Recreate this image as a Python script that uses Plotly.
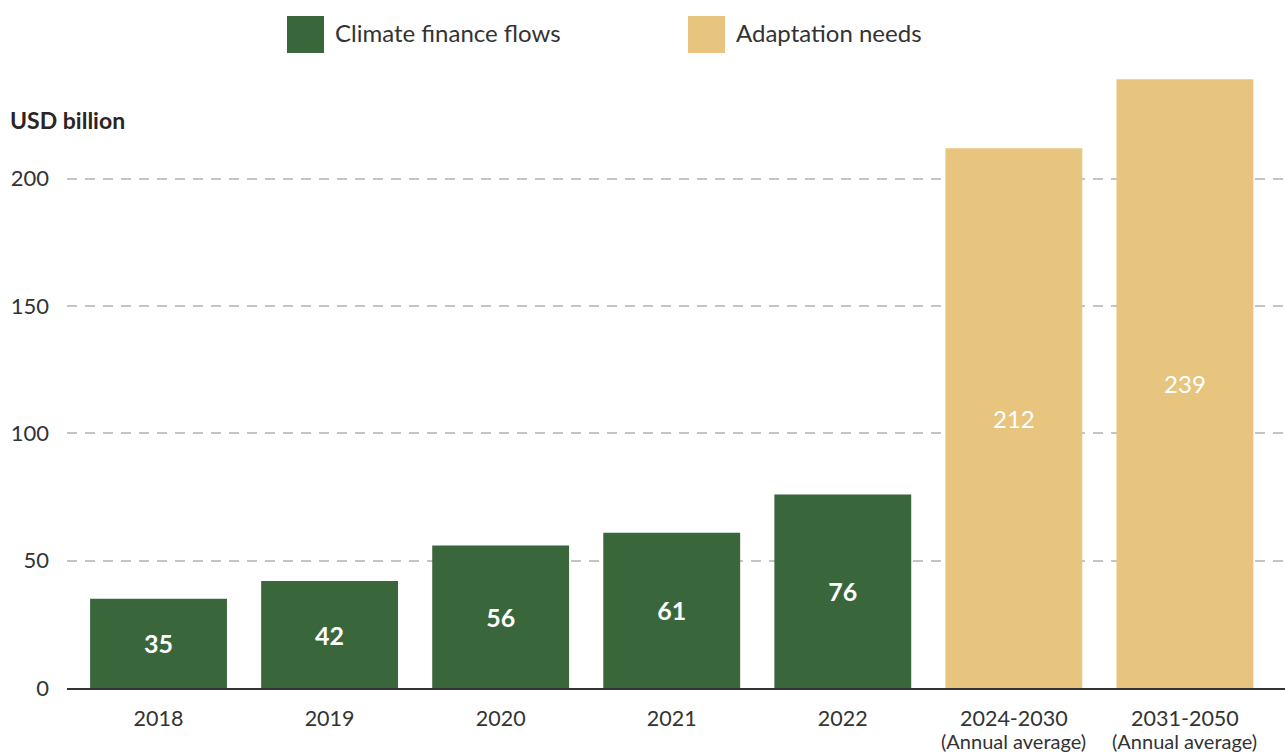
import plotly.graph_objects as go

# Climate finance flows vs. adaptation needs (USD billion)
flow_years = ["2018", "2019", "2020", "2021", "2022"]
flow_values = [35, 42, 56, 61, 76]
need_periods = ["2024-2030", "2031-2050"]
need_note = "(Annual average)"
need_values = [212, 239]
y_ticks = [0, 50, 100, 150, 200]

GREEN = "#3a663c"
GOLD = "#e8c57f"
TEXT = "#333333"
FONT = "Lato"

W, H = 1285, 753
ML, MR, MT, MB = 67, 0, 59, 65
PW, PH = W - ML - MR, H - MT - MB


def px_x(x):
    return (x - ML) / PW


def px_y(y):
    return (H - MB - y) / PH


fig = go.Figure()
fig.add_trace(go.Bar(
    x=flow_years, y=flow_values, name="Climate finance flows",
    marker=dict(color=GREEN, line=dict(width=0)), width=0.8,
    text=flow_values, textposition="inside", insidetextanchor="middle",
    textfont=dict(family=FONT, size=25, color="#ffffff", weight="bold"),
    textangle=0, showlegend=False, hoverinfo="x+y",
))
fig.add_trace(go.Bar(
    x=need_periods, y=need_values, name="Adaptation needs",
    marker=dict(color=GOLD, line=dict(width=0)), width=0.8,
    text=need_values, textposition="inside", insidetextanchor="middle",
    textfont=dict(family=FONT, size=24, color="#ffffff"),
    textangle=0, showlegend=False, hoverinfo="x+y",
))

# Second line under the projected periods
for period in need_periods:
    fig.add_annotation(text=need_note, xref="x", yref="paper",
                       x=period, y=px_y(741), xanchor="center", yanchor="middle",
                       showarrow=False, font=dict(family=FONT, size=20, color=TEXT))

# Legend drawn as large swatches with labels above the plot
legend_items = [("Climate finance flows", GREEN, 287), ("Adaptation needs", GOLD, 688)]
for label, color, left in legend_items:
    fig.add_shape(type="rect", xref="paper", yref="paper",
                  x0=px_x(left), x1=px_x(left + 37), y0=px_y(53), y1=px_y(16),
                  fillcolor=color, line=dict(width=0))
    fig.add_annotation(text=label, xref="paper", yref="paper",
                       x=px_x(left + 46), y=px_y(33), xanchor="left", yanchor="middle",
                       showarrow=False, font=dict(family=FONT, size=24, color=TEXT))

fig.add_annotation(text="<b>USD billion</b>", xref="paper", yref="paper",
                   x=px_x(8), y=px_y(120), xanchor="left", yanchor="middle",
                   showarrow=False, font=dict(family=FONT, size=23, color="#2b2424"))

fig.update_layout(
    width=W, height=H,
    margin=dict(l=ML, r=MR, t=MT, b=MB),
    paper_bgcolor="white", plot_bgcolor="white",
    barmode="overlay",
    font=dict(family=FONT, color=TEXT),
    xaxis=dict(
        type="category",
        categoryorder="array", categoryarray=flow_years + need_periods,
        range=[-0.535, 6.585],
        showgrid=False, zeroline=False,
        showline=True, linecolor="#333333", linewidth=2,
        ticks="", tickfont=dict(family=FONT, size=21.5, color=TEXT),
        ticklabelstandoff=10, automargin=False,
        fixedrange=True,
    ),
    yaxis=dict(
        range=[0, 247], tickvals=y_ticks,
        showgrid=True, gridcolor="#c4c4c4", gridwidth=1.5, griddash="10px,8px",
        zeroline=False, showline=False, ticks="",
        tickfont=dict(family=FONT, size=22, color=TEXT),
        ticklabelstandoff=17, automargin=False,
        fixedrange=True,
    ),
)

fig.write_html("out.html")
